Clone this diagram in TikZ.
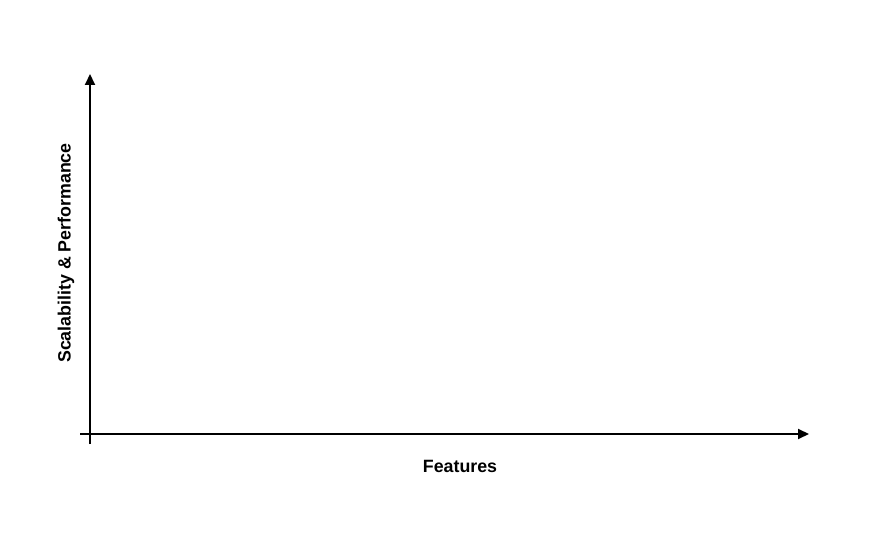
\documentclass[tikz,border=0pt]{standalone}
\usepackage{fontspec}
\setmainfont{Liberation Sans}
\usetikzlibrary{arrows.meta}
\begin{document}
\begin{tikzpicture}[x=1bp,y=-1bp,
  axis/.style={line width=2bp,-{Triangle[length=11bp,width=10bp]}},
  axislabel/.style={font=\fontsize{17.8bp}{20bp}\selectfont\bfseries,inner sep=0pt}]
\useasboundingbox[fill=white] (0,0) rectangle (878,557);
\coordinate (ybot) at (90,444);
\coordinate (ytop) at (90,74);
\coordinate (xleft) at (80,434);
\coordinate (xright) at (809,434);
\draw[axis] (ybot) -- (ytop);
\draw[axis] (xleft) -- (xright);
\node[axislabel,anchor=base] (xl) at (460,472.5) {Features};
\node[axislabel,anchor=base,rotate=90] (yl) at (70.5,253) {Scalability \& Performance};
\end{tikzpicture}
\end{document}
